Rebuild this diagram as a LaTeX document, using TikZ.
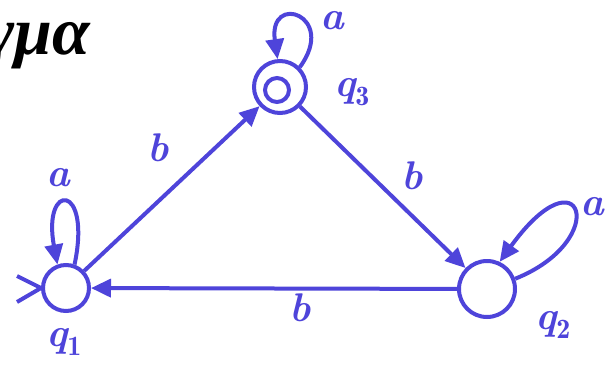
\documentclass[tikz,border=0pt]{standalone}
\usepackage{fontspec}
\newfontfamily\grk{Liberation Serif}
\usetikzlibrary{arrows.meta}
\definecolor{ink}{RGB}{78,68,218}
\tikzset{
  ink/.style={draw=ink, line width=4pt},
  state/.style={ink, circle, minimum size=#1, inner sep=0pt},
  tip/.style={-{Triangle[length=20pt,width=18pt]}},
  lbl/.style={text=ink, font=\fontsize{40}{40}\selectfont\bfseries\itshape, inner sep=0pt},
}
\begin{document}
\begin{tikzpicture}[x=1pt,y=-1pt]
\useasboundingbox[fill=white] (0,0) rectangle (608,370);
% title fragment
\node[anchor=base east, inner sep=0pt, font=\grk\fontsize{68}{68}\selectfont\bfseries\itshape] (title) at (90,54) {γμα};
% states
\node[state=46pt] (q1) at (66,288) {};
\node[state=52pt] (q3) at (280,87) {};
\node[state=24pt] (q3in) at (277,90) {};
\node[state=56pt] (q2) at (487,289) {};
% state labels
\node[lbl] (l1) at (64,342) {q$_{\mathbf 1}$};
\node[lbl] (l3) at (352,92) {q$_{\mathbf 3}$};
\node[lbl] (l2) at (553,325) {q$_{\mathbf 2}$};
% initial arrow (open V)
\coordinate (i1) at (17,276);
\coordinate (i2) at (17,302);
\draw[ink] (i1) -- (q1.west) -- (i2);
% transitions
\draw[ink, tip] (q1) -- (q3);
\draw[ink, tip] (q3) -- (q2);
\draw[ink, tip] (q2) -- (q1);
\node[lbl] (b1) at (158,148) {b};
\node[lbl] (b2) at (412,176) {b};
\node[lbl] (b3) at (300,308) {b};
% self loops
\draw[ink, tip] (q1.70) .. controls (92,182) and (42,182) .. (q1.110);
\node[lbl] (a1) at (58,178) {a};
\draw[ink, tip] (q3.45) .. controls (338,15) and (268,-8) .. (q3.95);
\node[lbl] (a3) at (332,21) {a};
\draw[ink, tip] (q2.20) .. controls (612,240) and (582,148) .. (q2.65);
\node[lbl] (a2) at (592,207) {a};
\end{tikzpicture}
\end{document}
